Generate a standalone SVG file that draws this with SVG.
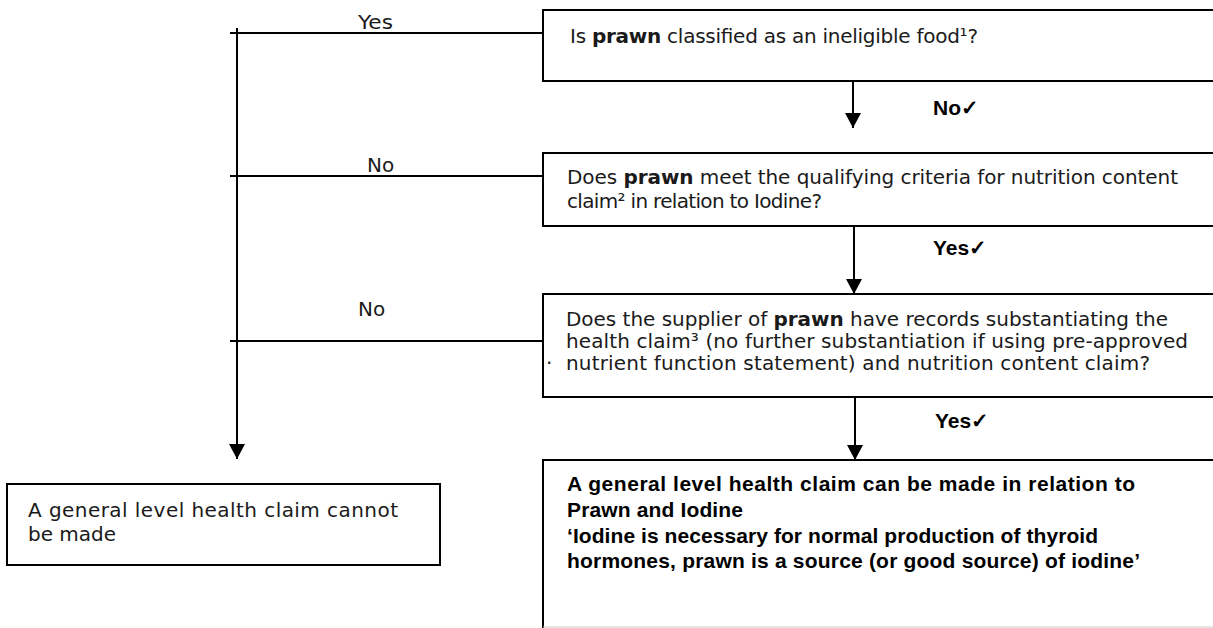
<svg xmlns="http://www.w3.org/2000/svg" width="1213" height="628" viewBox="0 0 1213 628">
  <defs>
    <style>
      .box { fill: #fff; stroke: #000; stroke-width: 2; }
      .conn { fill: none; stroke: #000; stroke-width: 2; }
      .t { font-family: "DejaVu Sans", "Liberation Sans", sans-serif; font-size: 20px; fill: #1a1a1a; }
      .b { font-weight: bold; }
      .tb { font-family: "Liberation Sans", Arial, sans-serif; font-weight: bold; font-size: 21px; fill: #000; }
    </style>
    <marker id="arrow" markerUnits="userSpaceOnUse" markerWidth="16" markerHeight="16" refX="15" refY="8" orient="auto">
      <path d="M0,0 L15,8 L0,16 Z" fill="#000"/>
    </marker>
  </defs>
  <rect width="1213" height="628" fill="#fff"/>

  <!-- connectors -->
  <g id="connectors">
    <line class="conn" x1="237" y1="28" x2="237" y2="459" marker-end="url(#arrow)"/>
    <line class="conn" x1="230" y1="33" x2="543" y2="33"/>
    <line class="conn" x1="230" y1="176" x2="543" y2="176"/>
    <line class="conn" x1="230" y1="341" x2="543" y2="341"/>
    <line class="conn" x1="853" y1="81" x2="853" y2="128" marker-end="url(#arrow)"/>
    <line class="conn" x1="854" y1="226" x2="854" y2="294" marker-end="url(#arrow)"/>
    <line class="conn" x1="855" y1="397" x2="855" y2="460" marker-end="url(#arrow)"/>
    <text class="t" x="358" y="29" textLength="35" lengthAdjust="spacingAndGlyphs">Yes</text>
    <text class="t" x="367" y="172">No</text>
    <text class="t" x="358" y="316">No</text>
    <text class="tb" x="933" y="115">No✓</text>
    <text class="tb" x="933" y="255">Yes✓</text>
    <text class="tb" x="935" y="428">Yes✓</text>
  </g>

  <!-- decision: ineligible food -->
  <g id="q-ineligible">
    <rect class="box" x="543" y="10" width="690" height="71"/>
    <text class="t" x="570" y="43" textLength="408" lengthAdjust="spacing">Is <tspan class="b">prawn</tspan> classified as an ineligible food¹?</text>
  </g>

  <!-- decision: qualifying criteria -->
  <g id="q-criteria">
    <rect class="box" x="543" y="153" width="690" height="73"/>
    <text class="t" x="567" y="184" textLength="611" lengthAdjust="spacing">Does <tspan class="b">prawn</tspan> meet the qualifying criteria for nutrition content</text>
    <text class="t" x="567" y="208" textLength="255" lengthAdjust="spacing">claim² in relation to Iodine?</text>
  </g>

  <!-- decision: supplier records -->
  <g id="q-records">
    <rect class="box" x="543" y="294" width="690" height="103"/>
    <text class="t" x="566" y="326" textLength="602" lengthAdjust="spacing">Does the supplier of <tspan class="b">prawn</tspan> have records substantiating the</text>
    <text class="t" x="566" y="348" textLength="622" lengthAdjust="spacing">health claim³ (no further substantiation if using pre-approved</text>
    <text class="t" x="546" y="370">·</text>
    <text class="t" x="566" y="370" textLength="584" lengthAdjust="spacing">nutrient function statement) and nutrition content claim?</text>
  </g>

  <!-- outcome: claim can be made -->
  <g id="claim-yes">
    <path class="box" d="M1233,460 H543 V628"/>
    <line x1="543" y1="627" x2="1213" y2="627" stroke="#c8c8c8" stroke-width="1"/>
    <text class="tb" x="567" y="491" textLength="568" lengthAdjust="spacing">A general level health claim can be made in relation to</text>
    <text class="tb" x="567" y="517" textLength="176" lengthAdjust="spacing">Prawn and Iodine</text>
    <text class="tb" x="567" y="543" textLength="531" lengthAdjust="spacing">‘Iodine is necessary for normal production of thyroid</text>
    <text class="tb" x="567" y="568" textLength="573" lengthAdjust="spacing">hormones, prawn is a source (or good source) of iodine’</text>
  </g>

  <!-- outcome: claim cannot be made -->
  <g id="claim-no">
    <rect class="box" x="7" y="484" width="433" height="81"/>
    <text class="t" x="28" y="517" textLength="370" lengthAdjust="spacing">A general level health claim cannot</text>
    <text class="t" x="28" y="541">be made</text>
  </g>
</svg>
